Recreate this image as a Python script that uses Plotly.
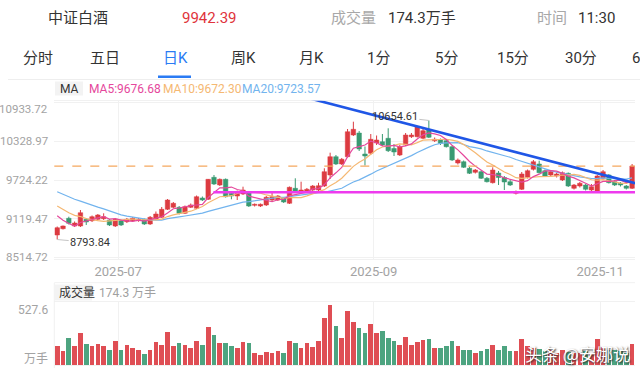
import pandas as pd
import plotly.graph_objects as go

# ---------------- data ----------------
holidays = ["2025-10-01", "2025-10-02", "2025-10-03", "2025-10-06", "2025-10-07", "2025-10-08"]
dates = [d.strftime("%Y-%m-%d") for d in pd.bdate_range("2025-06-16", "2025-11-10")
         if d.strftime("%Y-%m-%d") not in holidays]

opens = [8864.5, 8963.0, 9125.6, 9005.2, 9005.2, 9109.9, 9088.1, 9109.9, 9119.3, 9099.0,
         9005.2, 9088.1, 9072.4, 9088.1, 9088.1, 9109.9, 9036.5, 9109.9, 9141.2, 9266.2,
         9297.5, 9297.5, 9203.7, 9297.5, 9281.9, 9442.9, 9422.5, 9766.4, 9646.0, 9735.1,
         9516.3, 9474.1, 9505.4, 9541.3, 9328.7, 9317.8, 9333.5, 9411.6, 9411.6, 9442.9,
         9360.0, 9594.5, 9525.7, 9541.3, 9567.9, 9567.9, 9630.4, 9802.4, 10088.4, 9974.3,
         10088.4, 10427.6, 10458.8, 10130.6, 10141.5, 10302.5, 10322.8, 10375.9, 10216.5, 10115.0,
         10271.3, 10401.0, 10401.0, 10375.9, 10505.7, 10338.4, 10349.4, 10338.4, 10244.7, 9989.9,
         10010.3, 9907.1, 9844.6, 9854.0, 9750.8, 9682.0, 9833.6, 9763.3, 9697.7, 9516.3,
         9578.8, 9766.4, 9891.4, 9974.3, 9869.5, 9802.4, 9786.7, 9724.2, 9828.9, 9594.5,
         9630.4, 9646.0, 9567.9, 9541.3, 9750.8, 9802.4, 9697.7, 9672.6, 9630.4, 9594.5]
closes = [8978.6, 9005.2, 9047.4, 9052.1, 9213.1, 9067.7, 9150.6, 9177.2, 9150.6, 9020.9,
          9109.9, 9020.9, 9109.9, 9125.6, 9114.6, 9036.5, 9141.2, 9192.8, 9266.2, 9411.6,
          9360.0, 9203.7, 9306.9, 9333.5, 9463.2, 9411.6, 9735.1, 9661.7, 9735.1, 9463.2,
          9474.1, 9541.3, 9567.9, 9317.8, 9344.3, 9344.3, 9453.8, 9463.2, 9474.1, 9380.3,
          9610.1, 9541.3, 9567.9, 9578.8, 9630.4, 9635.1, 9854.0, 10088.4, 9974.3, 10047.7,
          10479.2, 10516.6, 10208.7, 10099.3, 10360.3, 10349.4, 10271.3, 10182.1, 10161.8, 10244.7,
          10427.6, 10427.6, 10557.3, 10494.8, 10391.6, 10360.3, 10297.8, 10244.7, 10036.8, 10036.8,
          9922.8, 9828.9, 9880.5, 9750.8, 9697.7, 9880.5, 9763.3, 9693.0, 9646.0, 9541.3,
          9818.0, 9869.5, 10010.3, 9838.3, 9786.7, 9854.0, 9818.0, 9838.3, 9630.4, 9646.0,
          9672.6, 9578.8, 9619.5, 9786.7, 9854.0, 9682.0, 9646.0, 9646.0, 9594.5, 9942.39]
highs = [8997.4, 9013.0, 9150.6, 9075.6, 9255.3, 9130.3, 9169.3, 9192.8, 9203.7, 9114.6,
         9130.3, 9106.8, 9130.3, 9145.9, 9130.3, 9122.5, 9161.5, 9231.9, 9302.2, 9427.2,
         9380.3, 9317.8, 9325.6, 9356.9, 9481.9, 9466.3, 9739.8, 9802.4, 9747.7, 9747.7,
         9536.6, 9560.1, 9619.5, 9552.3, 9356.9, 9356.9, 9474.1, 9521.0, 9489.8, 9458.5,
         9622.6, 9750.8, 9697.7, 9599.2, 9646.0, 9681.0, 9907.1, 10150.9, 10115.0, 10068.1,
         10521.3, 10635.4, 10490.1, 10247.9, 10443.2, 10419.7, 10443.2, 10532.3, 10286.9, 10271.3,
         10458.8, 10458.8, 10568.2, 10552.6, 10654.61, 10388.5, 10372.9, 10357.2, 10263.4, 10060.3,
         10029.0, 9927.4, 9896.1, 9872.7, 9771.1, 9922.8, 9864.9, 9786.7, 9724.2, 9560.1,
         9849.2, 9888.3, 10036.8, 10025.9, 9888.3, 9872.7, 9841.4, 9857.1, 9841.4, 9661.7,
         9693.0, 9661.7, 9661.7, 9802.4, 9880.5, 9818.0, 9724.2, 9693.0, 9646.0, 9974.3]
lows = [8793.84, 8950.5, 9028.7, 8989.6, 8989.6, 9020.9, 9067.7, 9091.2, 9099.0, 9005.2,
        8989.6, 9005.2, 9052.1, 9067.7, 9072.4, 9020.9, 9020.9, 9099.0, 9130.3, 9255.3,
        9286.6, 9185.0, 9192.8, 9286.6, 9270.9, 9396.0, 9411.6, 9646.0, 9630.4, 9450.7,
        9422.5, 9411.6, 9489.8, 9302.2, 9310.0, 9302.2, 9317.8, 9380.3, 9396.0, 9364.7,
        9349.1, 9528.8, 9513.2, 9528.8, 9552.3, 9552.3, 9614.8, 9739.8, 9958.7, 9958.7,
        10075.9, 10411.9, 10177.5, 9950.9, 10115.0, 10271.3, 10255.6, 10161.8, 10099.3, 10099.3,
        10255.6, 10380.7, 10388.5, 10365.0, 10380.7, 10318.1, 10271.3, 10232.2, 10021.2, 9966.5,
        9911.8, 9818.0, 9825.8, 9739.8, 9685.2, 9669.5, 9646.0, 9567.9, 9630.4, 9497.6,
        9567.9, 9747.7, 9872.7, 9825.8, 9771.1, 9778.9, 9763.3, 9708.6, 9614.8, 9575.7,
        9607.0, 9560.1, 9536.6, 9528.8, 9732.0, 9669.5, 9630.4, 9622.6, 9575.7, 9583.4]
volumes = [163, 119, 227, 161, 266, 180, 158, 177, 158, 130,
           205, 125, 172, 147, 127, 89, 130, 191, 169, 274,
           158, 183, 166, 139, 199, 172, 319, 249, 183, 186,
           161, 139, 191, 183, 100, 83, 108, 100, 116, 97,
           205, 186, 147, 186, 155, 202, 396, 507, 327, 230,
           454, 360, 313, 271, 341, 271, 288, 230, 205, 172,
           235, 169, 191, 211, 222, 147, 144, 163, 202, 161,
           122, 130, 100, 116, 136, 172, 127, 158, 119, 119,
           219, 158, 144, 136, 119, 130, 102, 125, 108, 102,
           97, 114, 105, 219, 152, 122, 125, 119, 97, 174.3]
# closes of the 19 sessions before the window (only used to seed the moving averages)
pre_closes = [9850, 9820, 9790, 9800, 9760, 9740, 9750, 9720, 9700, 9710,
              9600, 9520, 9450, 9400, 9380, 9360, 9300, 9250, 8942]

month_labels = ["2025-07", "2025-09", "2025-11"]
price_ticks = [8514.72, 9119.47, 9724.22, 10328.97, 10933.72]
price_tick_text = ["8514.72", "9119.47", "9724.22", "10328.97", "10933.72"]
vol_max = 527.6
support_level = 9532.0
support_from = 26.9
trend_x = [43.2, 100.4]
trend_y = [11005.9, 9653.8]
ma_text = ["MA5:9676.68", "MA10:9672.30", "MA20:9723.57"]

# ---------------- derived ----------------
n = len(dates)
idx = list(range(n))
allc = pd.Series(pre_closes + closes)
off = len(pre_closes)
ma5 = allc.rolling(5).mean().iloc[off:].tolist()
ma10 = allc.rolling(10).mean().iloc[off:].tolist()
ma20 = allc.rolling(20).mean().iloc[off:].tolist()

UP = "#dc3b41"
DOWN = "#3a9a72"
is_up = [c >= o for o, c in zip(opens, closes)]
colors = [UP if u else DOWN for u in is_up]
base = [min(o, c) for o, c in zip(opens, closes)]
height = [max(abs(c - o), 9.0) for o, c in zip(opens, closes)]

month_pos = []
for m in month_labels:
    first = next(i for i, d in enumerate(dates) if d.startswith(m))
    month_pos.append(first - 0.5)

W, H = 640, 372
def px(x):
    return x / W
def py(y):
    return 1 - y / H

FONT = "Roboto, 'Noto Sans CJK SC', 'Noto Sans', sans-serif"
GRID = "#f1f1f1"

fig = go.Figure()

# wicks
for up_flag, col in ((True, UP), (False, DOWN)):
    wx, wy = [], []
    for i in idx:
        if is_up[i] == up_flag:
            wx += [i, i, None]
            wy += [lows[i], highs[i], None]
    fig.add_trace(go.Scatter(x=wx, y=wy, mode="lines", line=dict(color=col, width=1),
                             hoverinfo="skip", showlegend=False, xaxis="x", yaxis="y"))

# bodies
fig.add_trace(go.Bar(x=idx, y=height, base=base, width=0.78,
                     marker=dict(color=colors, line=dict(color=colors, width=0.5)),
                     showlegend=False, xaxis="x", yaxis="y"))

# moving averages
fig.add_trace(go.Scatter(x=idx, y=ma20, mode="lines", line=dict(color="#72b4ee", width=1.2),
                         showlegend=False, xaxis="x", yaxis="y"))
fig.add_trace(go.Scatter(x=idx, y=ma10, mode="lines", line=dict(color="#f5b872", width=1.2),
                         showlegend=False, xaxis="x", yaxis="y"))
fig.add_trace(go.Scatter(x=idx, y=ma5, mode="lines", line=dict(color="#e5489c", width=1.2),
                         showlegend=False, xaxis="x", yaxis="y"))

# volume
fig.add_trace(go.Bar(x=idx, y=volumes, width=0.8,
                     marker=dict(color=colors, opacity=0.9, line=dict(width=0)),
                     showlegend=False, xaxis="x2", yaxis="y2"))

xdom = [px(54.3), px(635)]
axis_common = dict(range=[-0.5, n - 0.5], domain=xdom, tickvals=month_pos, showgrid=True,
                   gridcolor=GRID, gridwidth=1, zeroline=False, showline=True, mirror=True,
                   linecolor=GRID, linewidth=1, fixedrange=True)

fig.update_layout(
    width=W, height=H, margin=dict(l=0, r=0, t=0, b=0),
    paper_bgcolor="white", plot_bgcolor="white",
    font=dict(family=FONT), bargap=0, showlegend=False,
    xaxis=dict(**axis_common, ticktext=month_labels, ticks="",
               tickfont=dict(size=13, color="#a3a3a3", family=FONT)),
    yaxis=dict(domain=[py(259.3), py(100.7)], range=[8484.7, 10963.6], tickvals=price_ticks,
               showticklabels=False, showgrid=True, gridcolor=GRID, zeroline=False,
               showline=False, fixedrange=True),
    xaxis2=dict(**axis_common, showticklabels=False, anchor="y2"),
    yaxis2=dict(domain=[py(365), py(302.3)], range=[0, vol_max], tickvals=[vol_max],
                showticklabels=False, showgrid=True, gridcolor=GRID, zeroline=False,
                showline=False, fixedrange=True, anchor="x2"),
)

shapes = [
    dict(type="line", xref="paper", yref="paper", x0=px(8), x1=1, y0=py(79.5), y1=py(79.5),
         line=dict(color="#eeeeee", width=1)),
    dict(type="rect", xref="paper", yref="paper", x0=px(158), x1=px(191), y0=py(78), y1=py(75.5),
         fillcolor="#2a7bf4", line=dict(width=0)),
    dict(type="rect", xref="paper", yref="paper", x0=px(55), x1=px(83), y0=py(95.5), y1=py(81.5),
         fillcolor="#f3f3f3", line=dict(width=0), layer="below"),
    dict(type="rect", xref="paper", yref="paper", x0=px(55), x1=px(92), y0=py(300.5), y1=py(284.5),
         fillcolor="#f3f3f3", line=dict(width=0), layer="below"),
    dict(type="line", xref="paper", yref="paper", x0=px(54.3), x1=px(635), y0=py(282.7), y1=py(282.7),
         line=dict(color=GRID, width=1)),
    dict(type="line", xref="paper", yref="paper", x0=px(54.3), x1=px(54.3), y0=py(368), y1=py(282.7),
         line=dict(color=GRID, width=1)),
    dict(type="line", xref="x domain", yref="y", x0=0, x1=1, y0=closes[-1], y1=closes[-1],
         line=dict(color="#f5a85f", width=1.3, dash="dash")),
    dict(type="line", xref="x", yref="y", x0=support_from, x1=n + 1, y0=support_level, y1=support_level,
         line=dict(color="#ee3bee", width=2.6)),
    dict(type="line", xref="x", yref="y", x0=trend_x[0], x1=trend_x[1], y0=trend_y[0], y1=trend_y[1],
         line=dict(color="#1f56e6", width=2.6)),
]
fig.update_layout(shapes=shapes)

ann = []
def txt(x, y, s, size, color, anchor="left", **kw):
    ann.append(dict(xref="paper", yref="paper", x=px(x), y=py(y), text=s, showarrow=False,
                    xanchor=anchor, yanchor="middle", font=dict(size=size, color=color, family=FONT), **kw))

# header
txt(46, 18.5, "中证白酒", 15, "#333333")
txt(180, 18.5, "9942.39", 15, "#e0333b")
txt(329, 18.5, "成交量", 15, "#a8a8a8")
txt(386, 18.5, "174.3万手", 15, "#333333")
txt(535, 18.5, "时间", 15, "#a8a8a8")
txt(576, 18.5, "11:30", 15, "#333333")
# tabs
for label, cx, col in [("分时", 38, "#333333"), ("五日", 105, "#333333"), ("日K", 175.5, "#2a7bf4"),
                       ("周K", 243, "#333333"), ("月K", 311, "#333333"), ("1分", 378, "#333333"),
                       ("5分", 446, "#333333"), ("15分", 513, "#333333"), ("30分", 581, "#333333"),
                       ("60分", 648, "#333333")]:
    txt(cx, 58, label, 15, col, anchor="center")
# MA legend
txt(58, 88.5, "MA", 12, "#333333")
txt(87, 88.5, ma_text[0], 12, "#e5489c")
txt(161, 88.5, ma_text[1], 12, "#f5b872")
txt(240, 88.5, ma_text[2], 12, "#72b4ee")
# volume header
txt(57, 292.7, "成交量", 12, "#333333")
txt(97, 292.7, "174.3 万手", 12, "#a0a0a0")
txt(49.5, 310, "527.6", 12, "#a3a3a3", anchor="right")
txt(49.5, 359, "万手", 12, "#a3a3a3", anchor="right")

# price axis labels
for v, s in zip(price_ticks, price_tick_text):
    ann.append(dict(xref="paper", yref="y", x=px(49.5), y=v, text=s, showarrow=False,
                    xanchor="right", yanchor="middle", yshift=(-6 if v == max(price_ticks) else 0),
                    font=dict(size=11.5, color="#a3a3a3", family=FONT)))

# extreme labels
i_hi = highs.index(max(highs))
i_lo = lows.index(min(lows))
ann.append(dict(xref="x", yref="y", x=i_hi, y=highs[i_hi], text=f"{highs[i_hi]:.2f}",
                showarrow=True, arrowhead=0, arrowwidth=1, arrowcolor="#c4c4c4", ax=-34, ay=-4,
                font=dict(size=11, color="#333333", family=FONT)))
ann.append(dict(xref="x", yref="y", x=i_lo, y=lows[i_lo], text=f"{lows[i_lo]:.2f}",
                showarrow=True, arrowhead=0, arrowwidth=1, arrowcolor="#c4c4c4", ax=33, ay=3,
                font=dict(size=11, color="#333333", family=FONT)))

# watermark
ann.append(dict(xref="paper", yref="paper", x=px(577), y=py(353), text="头条 @安娜说", showarrow=False,
                xanchor="center", yanchor="middle",
                font=dict(size=17, color="white", family="'Noto Sans CJK SC', sans-serif",
                          shadow="1px 1px 2px #222")))

fig.update_layout(annotations=ann)
fig.write_html("out.html", config={"displayModeBar": False, "staticPlot": True},
               post_script="document.body.style.margin='0';document.body.style.overflow='hidden';")
